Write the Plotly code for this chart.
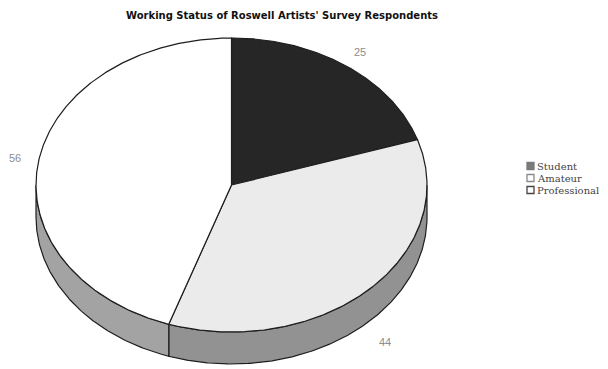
import numpy as np
import plotly.graph_objects as go

# Survey data
categories = ["Student", "Amateur", "Professional"]
counts = [25, 44, 56]

# Styling
top_colors = ["#262626", "#ebebeb", "#ffffff"]
side_colors = ["#5a5a5a", "#929292", "#a3a3a3"]
legend_fill = ["#7a7a7a", "#ffffff", "#ffffff"]
legend_edge = ["#7a7a7a", "#8a8a8a", "#444444"]
edge = "#1e1e1e"

W, H = 608, 369
cx, cy = 231.5, 185.0      # centre of the top face
rx, ry = 195.5, 147.0      # ellipse radii of the top face
depth = 32.0               # thickness of the pie


def pt(theta_deg, dy=0.0, k=1.0):
    t = np.radians(theta_deg)
    return cx + rx * k * np.sin(t), cy - ry * k * np.cos(t) + dy


def arc(a, b, dy=0.0):
    n = max(int(abs(b - a) * 2), 2)
    th = np.linspace(a, b, n)
    xs, ys = pt(th, dy)
    return list(xs), list(ys)


total = float(sum(counts))
bounds = [0.0]
for v in counts:
    bounds.append(bounds[-1] + 360.0 * v / total)

fig = go.Figure()

# Visible side walls (front half of the ellipse: 90..270 degrees)
for i, name in enumerate(categories):
    a, b = bounds[i], bounds[i + 1]
    s, e = max(a, 90.0), min(b, 270.0)
    if e <= s:
        continue
    tx, ty = arc(s, e)
    bx, by = arc(e, s, depth)
    fig.add_trace(go.Scatter(
        x=tx + bx + [tx[0]], y=ty + by + [ty[0]],
        mode="lines", fill="toself", fillcolor=side_colors[i],
        line=dict(color=edge, width=1.2), hoverinfo="skip", showlegend=False))

# Top faces
for i, name in enumerate(categories):
    a, b = bounds[i], bounds[i + 1]
    ax_, ay_ = arc(a, b)
    fig.add_trace(go.Scatter(
        x=[cx] + ax_ + [cx], y=[cy] + ay_ + [cy],
        mode="lines", fill="toself", fillcolor=top_colors[i],
        line=dict(color=edge, width=1.2), hoverinfo="skip", showlegend=False))

# Value labels outside each slice
for i, v in enumerate(counts):
    mid = (bounds[i] + bounds[i + 1]) / 2
    c = np.cos(np.radians(mid))
    lx, ly = pt(mid, depth * max(0.0, -c) * 1.75, k=1.12)
    fig.add_annotation(x=lx, y=ly, text=str(v), showarrow=False,
                       font=dict(family="Liberation Sans", size=11, color="#8c8c8c"))

# Legend: square swatches with serif labels
leg_x, leg_y0, leg_dy = 530.5, 166.0, 12.0
for i, name in enumerate(categories):
    yy = leg_y0 + i * leg_dy
    fig.add_trace(go.Scatter(
        x=[leg_x], y=[yy], mode="markers",
        marker=dict(symbol="square", size=7, color=legend_fill[i],
                    line=dict(color=legend_edge[i], width=1.3)),
        hoverinfo="skip", showlegend=False))
    fig.add_annotation(x=leg_x + 4.5, y=yy, text=name, showarrow=False,
                       xanchor="left", yanchor="middle", height=11,
                       font=dict(family="DejaVu Serif", size=10, color="#444444"))

fig.add_annotation(x=282, y=15, text="<b>Working Status of Roswell Artists' Survey Respondents</b>",
                   showarrow=False, xanchor="center", yanchor="middle",
                   font=dict(family="DejaVu Sans", size=10, color="#111111"))

fig.update_xaxes(range=[0, W], visible=False, fixedrange=True)
fig.update_yaxes(range=[H, 0], visible=False, fixedrange=True)
fig.update_layout(width=W, height=H, margin=dict(l=0, r=0, t=0, b=0),
                  paper_bgcolor="white", plot_bgcolor="white", showlegend=False)

fig.write_html("out.html")
